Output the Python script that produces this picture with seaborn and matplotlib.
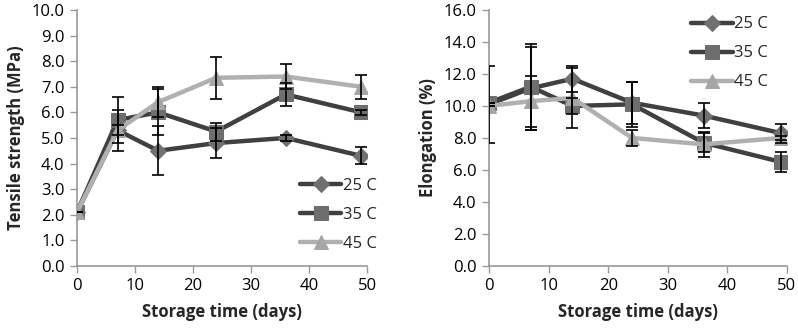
import numpy as np
import pandas as pd
import matplotlib
matplotlib.use("Agg")
import matplotlib.pyplot as plt
import seaborn as sns

days = [0, 7, 14, 24, 36, 49]
series = ["25 C", "35 C", "45 C"]

ts_25 = [2.1, 5.3, 4.5, 4.8, 5.0, 4.3]
ts_35 = [2.1, 5.7, 6.0, 5.25, 6.7, 6.0]
ts_45 = [2.1, 5.3, 6.4, 7.35, 7.4, 7.0]
ts_err_25 = [0.0, 0.2, 0.95, 0.6, 0.1, 0.33]
ts_err_35 = [0.0, 0.9, 0.9, 0.35, 0.45, 0.1]
ts_err_45 = [0.0, 0.8, 0.6, 0.83, 0.5, 0.47]

el_25 = [10.1, 11.1, 11.7, 10.2, 9.4, 8.3]
el_35 = [10.2, 11.2, 10.0, 10.1, 7.7, 6.5]
el_45 = [10.0, 10.3, 10.5, 8.0, 7.6, 8.0]
el_err_25 = [2.4, 2.6, 0.8, 1.3, 0.8, 0.6]
el_err_35 = [0.0, 2.7, 0.5, 1.4, 0.6, 0.6]
el_err_45 = [0.0, 1.6, 1.9, 0.5, 0.8, 0.15]

sns.set_style("white")
plt.rcParams['font.family'] = ['Open Sans', 'DejaVu Sans']

line_colors = {"25 C": "#404040", "35 C": "#404040", "45 C": "#b0b0b0"}
face_colors = {"25 C": "#707070", "35 C": "#6e6e6e", "45 C": "#a6a6a6"}
markers = {"25 C": "D", "35 C": "s", "45 C": "^"}
msizes = {"25 C": 8.5, "35 C": 10, "45 C": 10.5}

fig = plt.figure(figsize=(7.98, 3.32), dpi=100)
ax1 = fig.add_axes([0.0965, 0.199, 0.3634, 0.771])
ax2 = fig.add_axes([0.6128, 0.199, 0.3734, 0.771])

def draw(ax, vals, errs, ylim, ystep, ylabel, leg_anchor):
    for s, v, e in zip(series, vals, errs):
        df = pd.DataFrame({"day": days, "val": v})
        sns.lineplot(data=df, x="day", y="val", ax=ax, color=line_colors[s],
                     lw=3.2, marker=markers[s], markersize=msizes[s],
                     markerfacecolor=face_colors[s], markeredgecolor=face_colors[s],
                     label=s, zorder=2)
    for s, v, e in zip(series, vals, errs):
        ax.errorbar(days, v, yerr=e, fmt="none", ecolor="black", elinewidth=1.2,
                    capsize=4, capthick=1.2, zorder=3, clip_on=True)
    ax.set_xlim(0, 50)
    ax.set_ylim(*ylim)
    ax.set_xticks(np.arange(0, 51, 10))
    ticks = np.arange(ylim[0], ylim[1] + 0.01, ystep)
    ax.set_yticks(ticks)
    ax.set_yticklabels([f"{t:.1f}" for t in ticks])
    ax.set_xlabel("Storage time (days)", fontsize=12, fontweight="bold", labelpad=6)
    ax.set_ylabel(ylabel, fontsize=12, fontweight="bold", labelpad=5)
    ax.tick_params(axis="both", labelsize=12, labelcolor="black", length=5, width=1,
                   direction="out", left=True, bottom=True, pad=4, color="#999999")
    for sp in ["top", "right"]:
        ax.spines[sp].set_visible(False)
    for sp in ["left", "bottom"]:
        ax.spines[sp].set_color("#999999")
        ax.spines[sp].set_linewidth(1.2)
    ax.grid(False)
    ax.legend(loc="center left", bbox_to_anchor=leg_anchor, frameon=False,
              fontsize=12, handlelength=2.5, handletextpad=0.1,
              labelspacing=0.78, borderaxespad=0)

draw(ax1, [ts_25, ts_35, ts_45], [ts_err_25, ts_err_35, ts_err_45],
     (0.0, 10.0), 1.0, "Tensile strength (MPa)", (0.745, 0.2))
draw(ax2, [el_25, el_35, el_45], [el_err_25, el_err_35, el_err_45],
     (0.0, 16.0), 2.0, "Elongation (%)", (0.655, 0.83))

fig.savefig("out.png", dpi=100)
